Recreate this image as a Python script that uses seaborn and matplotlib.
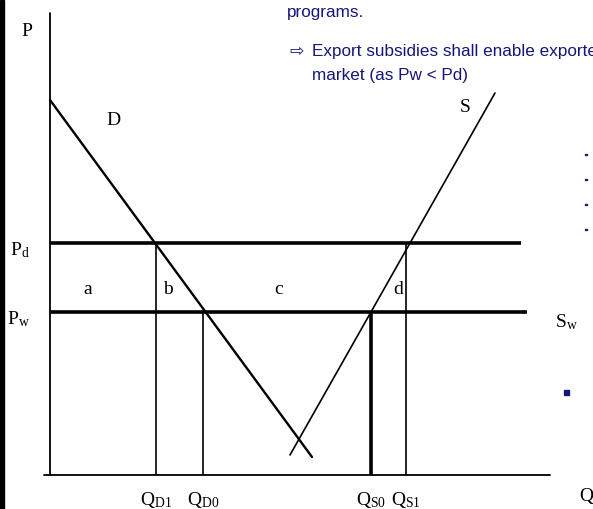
import numpy as np
import pandas as pd
import matplotlib
matplotlib.use("Agg")
import matplotlib.pyplot as plt
import seaborn as sns
from matplotlib.patches import Rectangle

# quantities / prices (origin at the axes corner)
p_levels = {"Pd": 4.64, "Pw": 3.26}
p_ends = {"Pd": 9.42, "Pw": 9.54}
q_marks = ["QD1", "QD0", "QS0", "QS1"]
q_values = [2.12, 3.06, 6.42, 7.12]
q_tops = [4.64, 3.26, 3.26, 4.64]
q_widths = [1.2, 1.2, 2.6, 1.2]

demand_q = [0.0, 5.24]
demand_p = [7.50, 0.36]
supply_q = [4.80, 8.90]
supply_p = [0.40, 7.64]

axis_q_max = 10.0
axis_p_max = 9.24

area_names = ["a", "b", "c", "d"]
area_q = [0.76, 2.36, 4.58, 6.96]
area_p = 3.70

W, H = 593, 509
navy = "#16167a"

sns.set_theme(style="white")
plt.rcParams["font.family"] = ["Liberation Serif", "DejaVu Sans"]

fig = plt.figure(figsize=(W / 100, H / 100), dpi=100)
ax = fig.add_axes([0, 0, 1, 1])
ax.set_xlim(-1.0, 10.86)
ax.set_ylim(-0.68, 9.50)
ax.axis("off")

# axes of the diagram
ax.plot([-0.12, axis_q_max], [0, 0], color="black", lw=1.3)
ax.plot([0, 0], [0, axis_p_max], color="black", lw=1.3)

# price lines
for k, p in p_levels.items():
    ax.hlines(p, 0, p_ends[k], color="black", lw=2.6)

# quantity drop lines
for q, top, lw in zip(q_values, q_tops, q_widths):
    ax.vlines(q, 0, top, color="black", lw=lw)

curves = pd.DataFrame({
    "Q": demand_q + supply_q,
    "P": demand_p + supply_p,
    "curve": ["D", "D", "S", "S"],
})
sns.lineplot(data=curves[curves.curve == "D"], x="Q", y="P", color="black",
             lw=1.7, ax=ax, legend=False, sort=False)
sns.lineplot(data=curves[curves.curve == "S"], x="Q", y="P", color="black",
             lw=1.2, ax=ax, legend=False, sort=False)

lab = dict(fontsize=14, color="black", family="Liberation Serif")
ax.text(-0.36, 8.86, "P", ha="right", va="center", **lab)
ax.text(1.26, 7.08, "D", ha="center", va="center", **lab)
ax.text(8.30, 7.34, "S", ha="center", va="center", **lab)
ax.text(-0.40, p_levels["Pd"] - 0.15, r"$\mathregular{P_d}$", ha="right", va="center", **lab)
ax.text(-0.40, p_levels["Pw"] - 0.15, r"$\mathregular{P_w}$", ha="right", va="center", **lab)
ax.text(10.10, 3.05, r"$\mathregular{S_w}$", ha="left", va="center", **lab)
for name, q in zip(area_names, area_q):
    ax.text(q, area_p, name, ha="center", va="center", **lab)

q_labels = [r"$\mathregular{Q_{D1}}$", r"$\mathregular{Q_{D0}}$",
            r"$\mathregular{Q_{S0}}$", r"$\mathregular{Q_{S1}}$"]
for txt, q in zip(q_labels, q_values):
    ax.text(q, -0.50, txt, ha="center", va="center", **lab)
ax.text(10.58, -0.42, "Q", ha="left", va="center", **lab)

# slide text overlapping the picture
slide = dict(color=navy, fontsize=12.3, family=["Liberation Sans", "DejaVu Sans"])
fig.text(287 / W, 1 - 17 / H, "programs.", ha="left", va="baseline", **slide)
fig.text(289 / W, 1 - 56 / H, "\u21e8", ha="left", va="baseline", **slide)
fig.text(312 / W, 1 - 56 / H, "Export subsidies shall enable exporters", ha="left",
         va="baseline", **slide)
fig.text(312 / W, 1 - 80 / H, "market (as Pw < Pd)", ha="left", va="baseline", **slide)

# black strip on the left edge and bits of slide on the right
fig.patches.append(Rectangle((0, 0), 4 / W, 1, transform=fig.transFigure,
                             color="black", zorder=5))
fig.patches.append(Rectangle((564 / W, 1 - 395 / H), 5 / W, 5 / H,
                             transform=fig.transFigure, color=navy, zorder=5))
for yy in [155, 180, 205, 230]:
    fig.patches.append(Rectangle((585 / W, 1 - yy / H), 2 / W, 1.2 / H,
                                 transform=fig.transFigure, color=navy, zorder=5))

fig.savefig("out.png", dpi=100)
